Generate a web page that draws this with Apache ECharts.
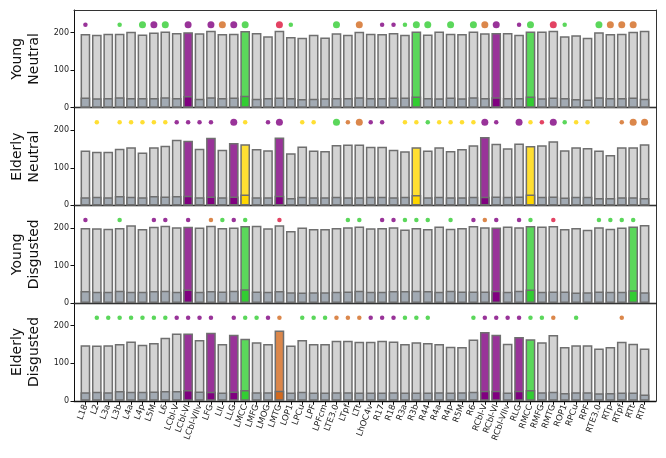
<!DOCTYPE html>
<html>
<head>
<meta charset="utf-8">
<script src="https://cdn.jsdelivr.net/npm/echarts@6/dist/echarts.min.js"></script>
<style>
html, body { margin: 0; padding: 0; background: #fff; }
#chart { width: 666px; height: 458px; }
</style>
</head>
<body>
<div id="chart"></div>
<script>
var regions = ['L18','L2','L3a','L3b','L4a','L4p','L5M','L6','LCbl-V','LCbl-VI','LCbl-VIIv','LFG','LIL','LLG','LMCC','LMFG','LMOG','LMTG','LOP1','LPCu','LPF','LPFcm','LTE3.0','LTpf','LTt','LhOC4v','R17','R18','R3a','R3b','R44','R4a','R4p','R5M','R6','RCbl-V','RCbl-VI','RCbl-VIIv','RLG','RMCC','RMFG','RMTG','ROP1','RPCu','RPF','RTE3.0','RTp','RTpf','RTt','RTP'];

var panelNames = ['Young\nNeutral', 'Elderly\nNeutral', 'Young\nDisgusted', 'Elderly\nDisgusted'];
var yTicks = [0, 100, 200];
var dotLevel = 221;

// total bar height per region
var youngNeutralTotal = [196,194,197,197,202,195,200,203,199,201,198,205,196,197,204,199,190,205,188,186,194,187,198,194,202,197,196,199,194,203,195,203,197,196,203,198,199,199,194,203,203,205,190,193,186,201,196,197,202,205];
var elderlyNeutralTotal = [146,143,143,151,155,141,155,159,175,172,151,180,148,166,163,150,147,181,139,157,146,145,161,162,162,156,156,148,144,155,146,155,145,150,160,182,164,152,165,158,160,171,147,155,153,146,134,155,155,163];
var youngDisgustedTotal = [200,199,198,200,207,197,203,206,202,203,201,206,200,201,205,206,199,207,192,201,197,197,200,202,204,199,200,202,196,200,197,204,198,200,205,202,201,204,202,205,204,205,197,200,195,202,198,201,204,208];
var elderlyDisgustedTotal = [148,147,148,151,158,149,154,168,179,179,162,181,151,176,165,156,151,187,147,162,151,151,160,160,157,157,160,158,151,156,154,151,144,143,163,183,176,152,170,164,156,175,143,148,148,139,143,157,152,139];

// lower (base) part per region
var youngNeutralBase = [27,25,26,28,26,26,26,28,26,31,24,28,26,27,32,24,26,27,26,23,24,25,26,26,28,26,26,27,27,30,26,25,27,25,28,26,28,26,26,30,25,27,26,23,22,28,26,26,27,24];
var elderlyNeutralBase = [22,23,22,25,23,22,25,24,25,26,22,24,22,24,29,22,22,26,20,23,22,22,23,22,22,23,23,22,23,28,22,23,22,22,23,23,24,23,24,29,23,24,21,23,23,20,20,22,22,20];
var youngDisgustedBase = [32,30,30,33,30,30,32,33,30,36,30,32,31,33,37,31,30,32,29,28,29,29,30,31,33,30,30,32,32,33,32,30,33,31,31,31,33,30,33,36,30,31,31,28,29,31,30,30,34,29];
var elderlyDisgustedBase = [23,24,23,26,24,24,25,26,26,29,25,24,22,25,29,23,23,27,22,24,22,22,23,23,22,22,22,23,22,22,22,23,22,23,24,27,27,22,27,29,23,24,21,23,23,20,21,22,22,17];

// highlighted bars: [region index, colour code]
var youngNeutralHighlight = [[9,'p'],[14,'g'],[29,'g'],[36,'p'],[39,'g']];
var elderlyNeutralHighlight = [[9,'p'],[11,'p'],[13,'p'],[14,'y'],[17,'p'],[29,'y'],[35,'p'],[39,'y']];
var youngDisgustedHighlight = [[9,'p'],[14,'g'],[36,'p'],[39,'g'],[48,'g']];
var elderlyDisgustedHighlight = [[9,'p'],[11,'p'],[13,'p'],[14,'g'],[17,'o'],[35,'p'],[36,'p'],[38,'p'],[39,'g']];

// dots above bars: [region index, colour code] (upper case = big dot)
var youngNeutralDots = [[0,'p'],[3,'g'],[5,'G'],[6,'P'],[7,'G'],[9,'P'],[11,'P'],[12,'O'],[13,'P'],[14,'G'],[17,'R'],[18,'g'],[22,'G'],[24,'O'],[26,'p'],[27,'p'],[28,'g'],[29,'G'],[30,'G'],[32,'G'],[34,'G'],[35,'O'],[36,'P'],[38,'p'],[39,'G'],[41,'R'],[42,'g'],[45,'G'],[46,'O'],[47,'O'],[48,'O']];
var elderlyNeutralDots = [[1,'y'],[3,'y'],[4,'y'],[5,'y'],[6,'y'],[7,'y'],[8,'p'],[9,'p'],[10,'p'],[11,'p'],[13,'P'],[14,'y'],[16,'p'],[17,'P'],[19,'y'],[20,'y'],[22,'G'],[23,'o'],[24,'O'],[25,'p'],[26,'p'],[28,'y'],[29,'y'],[30,'g'],[31,'y'],[32,'y'],[33,'y'],[34,'y'],[35,'P'],[36,'p'],[38,'P'],[39,'y'],[40,'r'],[41,'P'],[42,'g'],[43,'y'],[44,'y'],[47,'o'],[48,'O'],[49,'O']];
var youngDisgustedDots = [[0,'p'],[3,'g'],[6,'p'],[7,'p'],[9,'p'],[11,'o'],[12,'g'],[13,'p'],[14,'g'],[17,'r'],[23,'g'],[24,'g'],[26,'p'],[27,'p'],[28,'g'],[29,'g'],[30,'g'],[32,'g'],[34,'p'],[35,'o'],[36,'p'],[38,'p'],[39,'g'],[41,'r'],[45,'g'],[46,'g'],[47,'g'],[48,'g']];
var elderlyDisgustedDots = [[1,'g'],[2,'g'],[3,'g'],[4,'g'],[5,'g'],[6,'g'],[7,'g'],[8,'p'],[9,'p'],[10,'p'],[11,'p'],[13,'p'],[14,'g'],[15,'g'],[16,'p'],[17,'o'],[19,'g'],[20,'g'],[21,'g'],[22,'o'],[23,'o'],[24,'o'],[25,'p'],[26,'p'],[27,'p'],[28,'g'],[29,'g'],[30,'g'],[34,'g'],[35,'p'],[36,'p'],[37,'p'],[38,'p'],[39,'g'],[40,'g'],[41,'o'],[43,'g'],[47,'o']];

var solidColor = { p: '#800080', g: '#32cd32', y: '#ffd700', o: '#d2691e', r: '#dc143c' };
var lightColor = { p: '#993399', g: '#5bd75b', y: '#ffdf33', o: '#db874b' };
var grayTop = '#d3d3d3';
var grayBase = '#a2aab3';
var edge = '#6f6f6f';

var panels = [
    { total: youngNeutralTotal, base: youngNeutralBase, hl: youngNeutralHighlight, dots: youngNeutralDots },
    { total: elderlyNeutralTotal, base: elderlyNeutralBase, hl: elderlyNeutralHighlight, dots: elderlyNeutralDots },
    { total: youngDisgustedTotal, base: youngDisgustedBase, hl: youngDisgustedHighlight, dots: youngDisgustedDots },
    { total: elderlyDisgustedTotal, base: elderlyDisgustedBase, hl: elderlyDisgustedHighlight, dots: elderlyDisgustedDots }
];

var chart = echarts.init(document.getElementById('chart'));

var tops = [10, 107.7, 205.4, 303.1];
var grids = [], xAxes = [], yAxes = [], frameX = [], frameY = [], series = [];
var idx = regions.map(function (r, i) { return i; });

panels.forEach(function (p, k) {
    var last = k === 3;
    var hlMap = {};
    p.hl.forEach(function (h) { hlMap[h[0]] = h[1]; });

    grids.push({ left: 74, right: 10, top: tops[k], height: 97.7 });

    xAxes.push({
        gridIndex: k, type: 'value', min: -1, max: 50,
        splitLine: { show: false },
        axisLine: { onZero: false, lineStyle: { color: '#111', width: 1.4 } },
        axisTick: { show: last, customValues: idx, length: 4, lineStyle: { color: '#111' } },
        axisLabel: {
            show: last, customValues: idx, rotate: 70, fontSize: 8.5, margin: 4, color: '#222',
            formatter: function (v) { return regions[v]; }
        }
    });

    yAxes.push({
        gridIndex: k, type: 'value', min: 0, max: 260,
        name: panelNames[k], nameLocation: 'middle', nameGap: 29, nameRotate: 90,
        nameTextStyle: { fontSize: 14, lineHeight: 17, color: '#111' },
        splitLine: { show: false },
        axisLine: { show: true, onZero: false, lineStyle: { color: '#111', width: 1 } },
        axisTick: { show: true, customValues: yTicks, length: 3.5, lineStyle: { color: '#111' } },
        axisLabel: { customValues: yTicks, fontSize: 8, margin: 5, color: '#222' }
    });

    // top and right spines
    frameX.push({
        gridIndex: k, type: 'value', position: 'top', min: -1, max: 50,
        splitLine: { show: false }, axisTick: { show: false }, axisLabel: { show: false },
        axisLine: { show: true, onZero: false, lineStyle: { color: '#333', width: 1 } }
    });
    frameY.push({
        gridIndex: k, type: 'value', position: 'right', min: 0, max: 260,
        splitLine: { show: false }, axisTick: { show: false }, axisLabel: { show: false },
        axisLine: { show: true, onZero: false, lineStyle: { color: '#333', width: 1 } }
    });

    series.push({
        type: 'bar', xAxisIndex: k, yAxisIndex: k, barWidth: 9.7,
        itemStyle: { color: grayTop, borderColor: edge, borderWidth: 1.5 },
        data: p.total.map(function (v, i) {
            var c = hlMap[i];
            return c ? { value: [i, v], itemStyle: { color: lightColor[c] } } : { value: [i, v] };
        })
    });
    series.push({
        type: 'bar', xAxisIndex: k, yAxisIndex: k, barWidth: 9.7, barGap: '-100%',
        itemStyle: { color: grayBase, borderColor: edge, borderWidth: 1.5 },
        data: p.base.map(function (v, i) {
            var c = hlMap[i];
            return c ? { value: [i, v], itemStyle: { color: solidColor[c] } } : { value: [i, v] };
        })
    });
    series.push({
        type: 'scatter', xAxisIndex: k, yAxisIndex: k,
        data: p.dots.map(function (d) {
            var code = d[1];
            var big = code !== code.toLowerCase();
            return {
                value: [d[0], dotLevel],
                symbolSize: big ? 7 : 4.5,
                itemStyle: { color: solidColor[code.toLowerCase()] }
            };
        })
    });
});

var option = {
    animation: false,
    textStyle: { fontFamily: 'DejaVu Sans' },
    grid: grids,
    xAxis: xAxes.concat(frameX),
    yAxis: yAxes.concat(frameY),
    series: series
};

chart.setOption(option);
</script>
</body>
</html>
